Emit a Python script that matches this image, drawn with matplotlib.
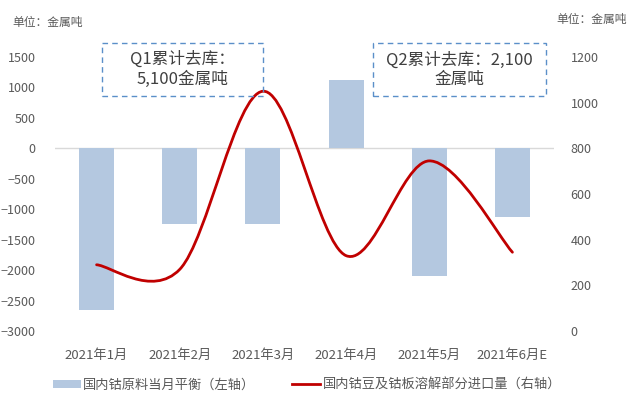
import matplotlib.pyplot as plt
from matplotlib.path import Path
from matplotlib.patches import PathPatch, Rectangle, Patch
from matplotlib.lines import Line2D

plt.rcParams['font.family'] = ['Noto Sans CJK SC', 'DejaVu Sans']

# data
months = ['2021年1月', '2021年2月', '2021年3月', '2021年4月', '2021年5月', '2021年6月E']
balance = [-2650, -1250, -1250, 1130, -2100, -1130]   # left axis, bars
imports = [290, 270, 1050, 330, 745, 345]             # right axis, line
left_ticks = [-3000, -2500, -2000, -1500, -1000, -500, 0, 500, 1000, 1500]
right_ticks = [0, 200, 400, 600, 800, 1000, 1200]

BAR_COLOR = '#B4C8E0'
LINE_COLOR = '#C00000'
TEXT_COLOR = '#595959'
BOX_COLOR = '#5B8FC9'


# Excel-like smoothed line: cubic bezier segments with catmull-rom tangents
def smooth_path(xs, ys):
    n = len(xs)
    verts = [(xs[0], ys[0])]
    codes = [Path.MOVETO]
    for i in range(n - 1):
        a = i - 1 if i > 0 else i
        b = i + 2 if i + 2 < n else i + 1
        c1 = (xs[i] + (xs[i + 1] - xs[a]) / 6, ys[i] + (ys[i + 1] - ys[a]) / 6)
        c2 = (xs[i + 1] - (xs[b] - xs[i]) / 6, ys[i + 1] - (ys[b] - ys[i]) / 6)
        verts += [c1, c2, (xs[i + 1], ys[i + 1])]
        codes += [Path.CURVE4] * 3
    return Path(verts, codes)


fig = plt.figure(figsize=(6.33, 3.99), dpi=100)
ax = fig.add_axes([55 / 633, 68 / 399, 499 / 633, 274 / 399])
ax2 = ax.twinx()

x = list(range(len(months)))
ax.bar(x, balance, width=0.42, color=BAR_COLOR, zorder=2)
ax.axhline(0, color='#D9D9D9', lw=1, zorder=1)

ax2.add_patch(PathPatch(smooth_path(x, imports), fill=False,
                        edgecolor=LINE_COLOR, lw=2, capstyle='round'))

ax.set_xlim(-0.5, len(months) - 0.5)
ax.set_ylim(-3000, 1500)
ax2.set_ylim(0, 1200)
ax.set_yticks(left_ticks)
ax2.set_yticks(right_ticks)
ax.set_xticks(x)
ax.set_xticklabels(months)

for a in (ax, ax2):
    for s in a.spines.values():
        s.set_visible(False)
    a.tick_params(length=0, labelsize=9, labelcolor=TEXT_COLOR)
ax.tick_params(axis='y', pad=14)
ax2.tick_params(axis='y', pad=12)
ax.tick_params(axis='x', pad=13, labelsize=9.5)

# unit labels
fig.text(12 / 633, 1 - 22 / 399, '单位：金属吨', fontsize=8.5, color=TEXT_COLOR, va='center')
fig.text(627 / 633, 1 - 19 / 399, '单位：金属吨', fontsize=8.5, color=TEXT_COLOR,
         va='center', ha='right')

# dashed annotation boxes
boxes = [
    (102, 43, 161, 53, 'Q1累计去库：\n5,100金属吨'),
    (373, 43, 173, 53, 'Q2累计去库：2,100\n金属吨'),
]
for bx, by, bw, bh, label in boxes:
    fig.patches.append(Rectangle((bx / 633, 1 - (by + bh) / 399), bw / 633, bh / 399,
                                 transform=fig.transFigure, fill=False,
                                 edgecolor=BOX_COLOR, lw=1, ls=(0, (4, 3)), zorder=5))
    fig.text((bx + bw / 2) / 633, 1 - (by + bh / 2) / 399, label, fontsize=12,
             color='#404040', ha='center', va='center', linespacing=1.2)

handles = [Patch(facecolor=BAR_COLOR, edgecolor='none'),
           Line2D([0], [0], color=LINE_COLOR, lw=2)]
labels = ['国内钴原料当月平衡（左轴）', '国内钴豆及钴板溶解部分进口量（右轴）']
fig.legend(handles, labels, loc='center', bbox_to_anchor=(307 / 633, 1 - 385 / 399),
           ncol=2, frameon=False, fontsize=9.5, labelcolor=TEXT_COLOR,
           handlelength=2.1, handleheight=0.5, handletextpad=0.2, columnspacing=2.8)

fig.savefig('out.png', dpi=100)
